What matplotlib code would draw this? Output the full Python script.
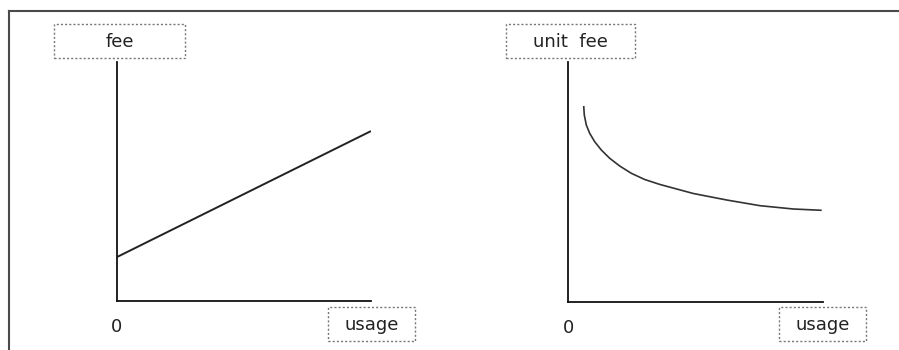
import numpy as np
import matplotlib.pyplot as plt
from matplotlib.patches import Rectangle
from matplotlib.lines import Line2D

# left panel: total fee grows linearly with usage
usage_fee = [0, 10]
fee = [1.84, 7.11]

# right panel: unit fee falls with usage
usage_unit = [0.616, 0.639, 0.718, 0.851, 1.047, 1.306, 1.635, 2.027,
              2.482, 3.008, 3.608, 4.914, 6.224, 7.529, 8.835, 9.949]
unit_fee = [8.167, 7.792, 7.375, 7.029, 6.679, 6.333, 5.988, 5.667,
            5.363, 5.104, 4.896, 4.521, 4.250, 4.013, 3.875, 3.821]

y_labels = ["fee", "unit  fee"]
x_label = "usage"
origin_label = "0"

W, H = 899, 350
fig = plt.figure(figsize=(W / 100, H / 100), dpi=100)
plt.rcParams['font.family'] = ['DejaVu Sans']


def fx(px):
    return px / W


def fy(py):
    return 1 - py / H


# outer frame (top and left only)
fig.add_artist(Line2D([fx(8.5), fx(899)], [fy(10.5), fy(10.5)],
                      color="#4a4a4a", lw=1.5))
fig.add_artist(Line2D([fx(8.5), fx(8.5)], [fy(10.5), fy(350)],
                      color="#4a4a4a", lw=1.5))


def box(x0, y0, x1, y1, text):
    fig.add_artist(Rectangle((fx(x0), fy(y1)), fx(x1) - fx(x0), fy(y0) - fy(y1),
                             fill=False, ec="#777777", lw=1.0, ls=(0, (1.5, 1.5))))
    fig.text(fx((x0 + x1) / 2), fy((y0 + y1) / 2 + 1), text, ha="center",
             va="center", fontsize=13, color="#222222")


panels = [
    # axes left, right, top, bottom (px), y label box, x label box
    (117, 371, 62, 301, (54, 24, 185, 58), (328, 307, 415, 341)),
    (568, 823, 62, 302, (506, 24, 635, 58), (779, 307, 866, 341)),
]
series = [(usage_fee, fee, 1.4, "#222222"), (usage_unit, unit_fee, 1.2, "#333333")]

for (l, r, t, b, ybox, xbox), (xs, ys, lw, col), ylab in zip(panels, series, y_labels):
    ax = fig.add_axes([fx(l), fy(b), fx(r) - fx(l), fy(t) - fy(b)])
    ax.plot(xs, ys, color=col, lw=lw, solid_capstyle="butt",
            solid_joinstyle="round")
    ax.set_xlim(0, 10)
    ax.set_ylim(0, 10)
    for s in ["top", "right"]:
        ax.spines[s].set_visible(False)
    for s in ["left", "bottom"]:
        ax.spines[s].set_linewidth(1.3)
        ax.spines[s].set_color("#111111")
    ax.set_xticks([])
    ax.set_yticks([])
    ax.patch.set_alpha(0)
    ax.annotate(origin_label, xy=(0, 0), xytext=(0, -26), textcoords="offset pixels",
                ha="center", va="center", fontsize=13, color="#222222",
                annotation_clip=False)
    box(*ybox, ylab)
    box(*xbox, x_label)

fig.savefig("out.png", dpi=100)
